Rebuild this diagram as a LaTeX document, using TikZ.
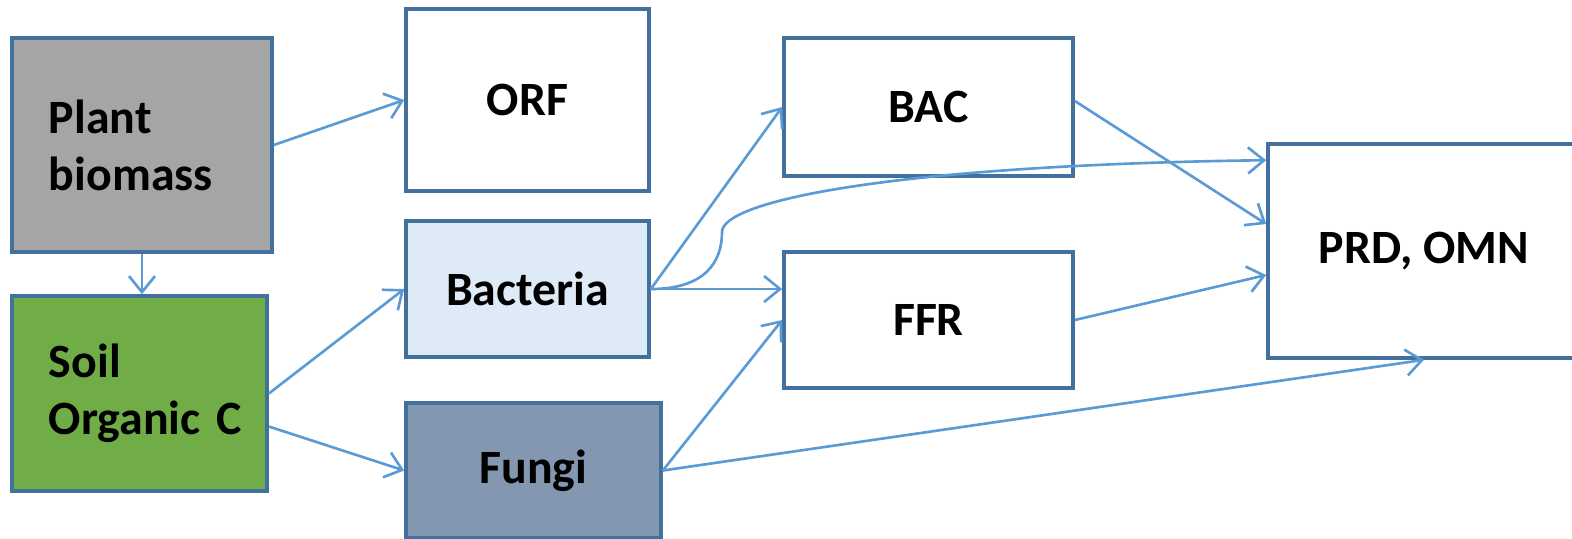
\documentclass[tikz,border=0pt]{standalone}
\usepackage{xcolor}
\usepackage{fontspec}
\setmainfont{Carlito}
\usetikzlibrary{arrows.meta,calc}

\definecolor{boxline}{HTML}{41719C}
\definecolor{arrowblue}{HTML}{5B9BD5}
\definecolor{plantgray}{HTML}{A5A5A5}
\definecolor{soilgreen}{HTML}{70AD47}
\definecolor{bactblue}{HTML}{DEEBF7}
\definecolor{fungiblue}{HTML}{8497B0}

\begin{document}
\begin{tikzpicture}[x=0.01cm,y=-0.01cm,
    box/.style={draw=boxline,line width=1pt,font=\fontsize{13.6}{16.2}\selectfont\bfseries,inner sep=0pt},
    leftbox/.style={box,align=left,text width=#1},
    flow/.style={draw=arrowblue,line width=0.75pt,-{Straight Barb[length=1.6mm,width=2.6mm]}}]
            % Fix the page size
            \useasboundingbox (0,0) rectangle (1572,538);

            % Draw left boxes
            \node[leftbox=1.86cm,fill=plantgray,minimum width=2.6cm,minimum height=2.14cm] (plant) at (142,145) {Plant\\biomass};
            \node[leftbox=1.81cm,fill=soilgreen,minimum width=2.55cm,minimum height=1.95cm] (soil) at (139.5,393.5) {Soil\\\mbox{Organic C}};

            % Draw middle boxes
            \node[box,fill=white,minimum width=2.43cm,minimum height=1.82cm] (orf) at (527.5,100) {ORF};
            \node[box,fill=bactblue,minimum width=2.43cm,minimum height=1.36cm] (bact) at (527.5,289) {Bacteria};
            \node[box,fill=fungiblue,minimum width=2.55cm,minimum height=1.35cm] (fungi) at (533.5,470.5) {Fungi};

            % Draw right boxes
            \node[box,minimum width=2.89cm,minimum height=1.38cm] (bac) at (928.5,107) {BAC};
            \node[box,minimum width=2.89cm,minimum height=1.36cm] (ffr) at (928.5,320) {FFR};
            \node[box,minimum width=3.12cm,minimum height=2.14cm] (prd) at (1424,251) {PRD, OMN};

            % Draw arrows
            \draw[flow] (plant.east) -- (orf.west);
            \draw[flow] (plant.south) -- (plant.south |- soil.north);
            \draw[flow] (soil.east) -- (bact.west);
            \draw[flow] ($(soil.east)+(0,33)$) -- (fungi.west);
            \draw[flow] (bact.east) -- (bac.west);
            \draw[flow] (bact.east) -- (ffr.west |- bact.east);
            \draw[flow] (bact.east) .. controls (705,289) and (722,262) .. (722,232)
                .. controls (722,200) and (900,165) .. ($(prd.north west)+(0,18)$);
            \draw[flow] (fungi.east) -- (ffr.west);
            \draw[flow] (fungi.east) -- (prd.south);
            \draw[flow] ($(bac.east)+(0,-6)$) -- ($(prd.west)+(0,-27)$);
            \draw[flow] (ffr.east) -- ($(prd.west)+(0,24)$);
        \end{tikzpicture}
\end{document}
